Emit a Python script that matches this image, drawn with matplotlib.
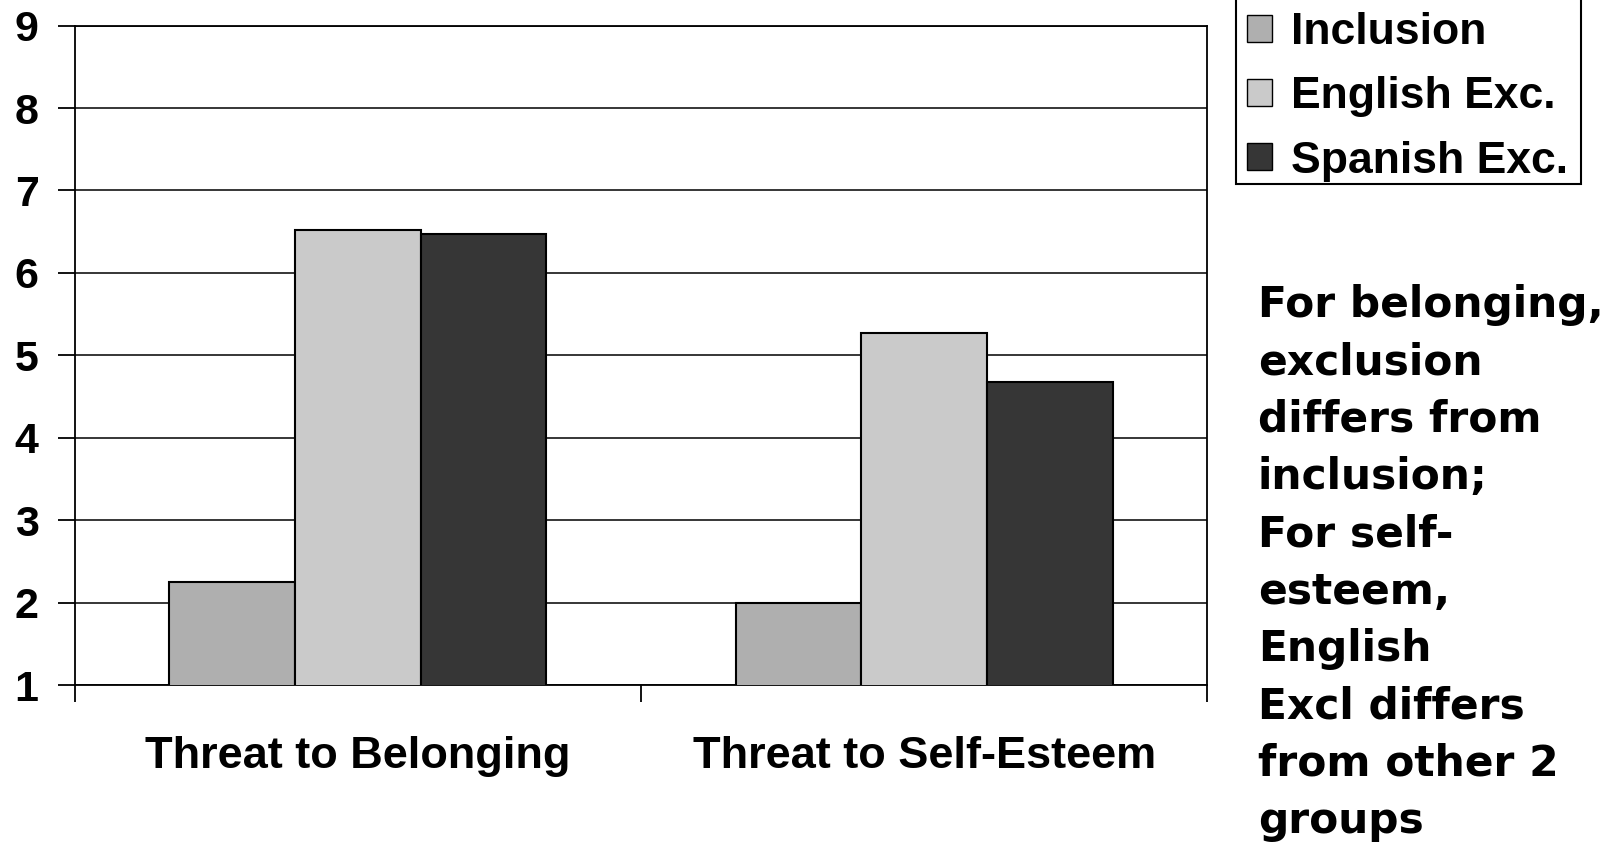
import matplotlib.pyplot as plt
from matplotlib.patches import Rectangle
import numpy as np

# data
cats = ['Threat to Belonging', 'Threat to Self-Esteem']
groups = ['Inclusion', 'English Exc.', 'Spanish Exc.']
inclusion = [2.25, 1.99]
english = [6.52, 5.27]
spanish = [6.47, 4.68]
cols = ['#afafaf', '#cacaca', '#363636']

note = ('For belonging,\nexclusion\ndiffers from\ninclusion;\nFor self-\nesteem,\n'
        'English\nExcl differs\nfrom other 2\ngroups')

fig = plt.figure(figsize=(16.04, 8.48), dpi=100)
ax = fig.add_axes([0.0466, 0.1922, 0.706, 0.7776])

x = np.arange(len(cats))
w = 0.222
for k, (vals, lab) in enumerate(zip([inclusion, english, spanish], groups)):
    ax.bar(x + (k - 1) * w, vals, w, color=cols[k], edgecolor='black',
           lw=1.5, label=lab, zorder=3)

ax.set_xlim(-0.5, 1.5)
ax.set_ylim(1, 9)
ax.set_yticks(range(1, 10))
ax.yaxis.grid(True, color='black', lw=1.1, zorder=0)
for s in ax.spines.values():
    s.set_linewidth(1.3)

ax.set_xticks([-0.5, 0.5, 1.5])
ax.set_xticklabels([])
ax.set_xticks(x, minor=True)
ax.set_xticklabels(cats, minor=True, fontsize=32.5, fontweight='bold',
                   family='Liberation Sans')
ax.tick_params(axis='x', which='major', length=12, width=1.3, direction='out')
ax.tick_params(axis='x', which='minor', length=0, pad=37)
ax.tick_params(axis='y', length=12, width=1.3, direction='out', pad=14)
for t in ax.get_yticklabels():
    t.set_fontsize(31)
    t.set_fontweight('bold')
    t.set_family('Liberation Sans')

# legend box runs off the top of the slide
fig.patches.append(Rectangle((0.7706, 0.783), 0.2148, 0.25, transform=fig.transFigure,
                             facecolor='white', edgecolor='black', lw=1.5, zorder=1))
leg = fig.legend(loc='lower left', bbox_to_anchor=(0.773, 0.777),
                 prop={'family': 'Liberation Sans', 'weight': 'bold', 'size': 32},
                 handlelength=0.55, handleheight=0.55, handletextpad=0.42,
                 labelspacing=0.52, borderpad=0.17, borderaxespad=0,
                 frameon=False)
leg.set_zorder(2)
for h in leg.legend_handles:
    h.set_linewidth(1.0)

fig.text(0.7842, 0.665, note, fontsize=30.5, fontweight='bold',
         family='DejaVu Sans', va='top', ha='left', linespacing=1.465)

plt.savefig('out.png', dpi=100)
